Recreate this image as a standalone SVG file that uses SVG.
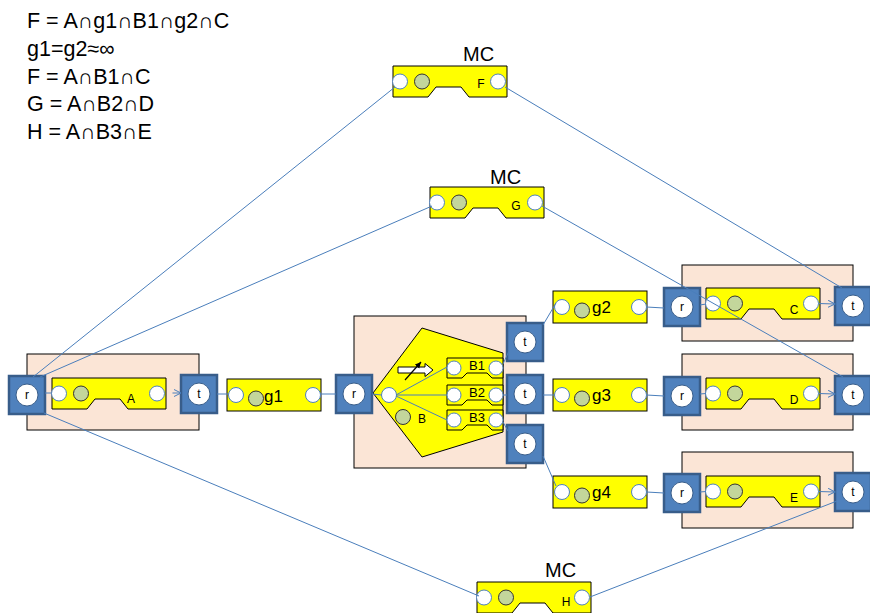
<svg xmlns="http://www.w3.org/2000/svg" width="870" height="613" viewBox="0 0 870 613">
<style>
.txt{font-family:"Liberation Sans",Arial,sans-serif;fill:#000}
.big{font-size:20px}
.eq{font-size:21.5px}
.lbl{font-size:12px}
.nl{font-size:12px;text-anchor:middle}
.glbl{font-size:17px}
.blbl{font-size:13px;text-anchor:middle}
.peach{fill:#FBE5D6;stroke:#000;stroke-width:1}
.yel{fill:#FFFF00;stroke:#000;stroke-width:1}
.port{fill:#fff;stroke:#4F81BD;stroke-width:1}
.grn{fill:#C3D69B;stroke:#333;stroke-width:1}
.blue{fill:#4F81BD;stroke:#385D8A;stroke-width:2.5}
.wc{fill:#fff;stroke:#385D8A;stroke-width:1}
.con{stroke:#4A7EBB;stroke-width:1;fill:none}
</style>
<defs>
<marker id="arr" markerWidth="9" markerHeight="9" refX="7" refY="4" orient="auto" markerUnits="userSpaceOnUse"><path d="M0,0.5 L7,4 L0,7.5" fill="none" stroke="#4A7EBB" stroke-width="1"/></marker>
<marker id="arrB" markerWidth="8" markerHeight="8" refX="6" refY="3" orient="auto" markerUnits="userSpaceOnUse"><path d="M0,0 L6,3 L0,6 Z" fill="#000"/></marker>
<g id="cmp"><polygon class="yel" points="0,0 114,0 114,31 76,31 68,21 43,21 35,31 0,31"/><circle class="port" cx="7" cy="15.5" r="7.5"/><circle class="grn" cx="29" cy="15.5" r="7.5"/><circle class="port" cx="105" cy="15.5" r="7.5"/></g>
<g id="gb"><rect class="yel" x="0" y="0" width="94" height="32"/><circle class="port" cx="9" cy="16" r="7.5"/><circle class="grn" cx="29" cy="19.5" r="7.5"/><circle class="port" cx="86" cy="16" r="7.5"/></g>
<g id="nd"><rect class="blue" x="-18" y="-19" width="36" height="38"/><circle class="wc" cx="0" cy="0" r="11"/></g>
<g id="bb"><polygon class="yel" points="0,0 56,0 56,20 45,20 40,15 20,15 15,20 0,20"/><circle class="port" cx="7" cy="10" r="7"/><circle class="port" cx="49" cy="10" r="7"/></g>
</defs>

<g id="equations" class="txt eq">
<text x="27" y="28">F = A∩g1∩B1∩g2∩C</text>
<text x="27" y="56">g1=g2≈∞</text>
<text x="27" y="84">F = A∩B1∩C</text>
<text x="27" y="111">G = A∩B2∩D</text>
<text x="27" y="139">H = A∩B3∩E</text>
</g>

<g id="mcF">
<text class="txt big" x="463" y="61">MC</text>
<use href="#cmp" x="393" y="66"/>
<text class="txt nl" x="481" y="88">F</text>
</g>
<g id="mcG">
<text class="txt big" x="490" y="184">MC</text>
<use href="#cmp" x="430" y="187"/>
<text class="txt nl" x="516" y="210">G</text>
</g>
<g id="mcH">
<text class="txt big" x="545" y="577">MC</text>
<use href="#cmp" x="477" y="582"/>
<text class="txt nl" x="566" y="606">H</text>
</g>

<g id="boxA">
<rect class="peach" x="27" y="354" width="172" height="76"/>
<use href="#cmp" x="52" y="378"/>
<text class="txt nl" x="131" y="403">A</text>
</g>
<g id="rA"><use href="#nd" x="27" y="395"/><text class="txt nl" x="27" y="399">r</text></g>
<g id="tA"><use href="#nd" x="199" y="394"/><text class="txt nl" x="199" y="398">t</text></g>

<g id="g1"><use href="#gb" x="227" y="379"/><text class="txt glbl" x="264" y="402">g1</text></g>

<g id="boxB">
<rect class="peach" x="354" y="316" width="172" height="152"/>
<polygon class="yel" points="373,393 422,328 503,353 503,432 422,457"/>
<path d="M398,367 H425 V363.5 L433,370 L425,376.5 V373 H398 Z" fill="#fff" stroke="#000" stroke-width="1"/>
<line x1="405" y1="380" x2="421" y2="362" stroke="#000" stroke-width="1.2" marker-end="url(#arrB)"/>
<circle class="port" cx="389" cy="395" r="7.5"/>
<circle class="grn" cx="403" cy="417" r="7.5"/>
<text class="txt lbl" x="418" y="423">B</text>
</g>
<g id="B1"><use href="#bb" x="447" y="358"/><text class="txt blbl" x="477" y="370">B1</text></g>
<g id="B2"><use href="#bb" x="447" y="385"/><text class="txt blbl" x="477" y="397">B2</text></g>
<g id="B3"><use href="#bb" x="447" y="410"/><text class="txt blbl" x="477" y="422">B3</text></g>
<g id="rB"><use href="#nd" x="354" y="394"/><text class="txt nl" x="354" y="398">r</text></g>
<g id="t1"><use href="#nd" x="525" y="342"/><text class="txt nl" x="525" y="346">t</text></g>
<g id="t2"><use href="#nd" x="525" y="394"/><text class="txt nl" x="525" y="398">t</text></g>
<g id="t3"><use href="#nd" x="525" y="444"/><text class="txt nl" x="525" y="448">t</text></g>

<g id="g2"><use href="#gb" x="553" y="291"/><text class="txt glbl" x="592" y="313">g2</text></g>
<g id="g3"><use href="#gb" x="553" y="379"/><text class="txt glbl" x="592" y="401">g3</text></g>
<g id="g4"><use href="#gb" x="553" y="476"/><text class="txt glbl" x="592" y="498">g4</text></g>

<g id="boxC">
<rect class="peach" x="682" y="265" width="171" height="76"/>
<use href="#cmp" x="706" y="288"/>
<text class="txt nl" x="794" y="314">C</text>
</g>
<g id="rC"><use href="#nd" x="682" y="307"/><text class="txt nl" x="682" y="311">r</text></g>
<g id="tC"><use href="#nd" x="853" y="306"/><text class="txt nl" x="853" y="310">t</text></g>

<g id="boxD">
<rect class="peach" x="682" y="354" width="171" height="76"/>
<use href="#cmp" x="706" y="378"/>
<text class="txt nl" x="794" y="404">D</text>
</g>
<g id="rD"><use href="#nd" x="682" y="396"/><text class="txt nl" x="682" y="400">r</text></g>
<g id="tD"><use href="#nd" x="853" y="395"/><text class="txt nl" x="853" y="399">t</text></g>

<g id="boxE">
<rect class="peach" x="682" y="452" width="171" height="76"/>
<use href="#cmp" x="706" y="476"/>
<text class="txt nl" x="794" y="502">E</text>
</g>
<g id="rE"><use href="#nd" x="682" y="493"/><text class="txt nl" x="682" y="497">r</text></g>
<g id="tE"><use href="#nd" x="853" y="492"/><text class="txt nl" x="853" y="496">t</text></g>

<g id="connectors" class="con">
<path d="M45,393 L51.5,393"/>
<path d="M172.5,393 L181,393" marker-end="url(#arr)"/>
<path d="M217,394 L228.5,394"/>
<path d="M320,394 L336,394"/>
<path d="M372,394 L381.5,395"/>
<path d="M396,395 L447,367"/>
<path d="M396.5,395 L447,395"/>
<path d="M396,396 L447,420"/>
<path d="M503,364 L509,351"/>
<path d="M503,395 L507,395"/>
<path d="M503,422 L508,431"/>
<path d="M543,325 L556,303"/>
<path d="M543,395 L554.5,395"/>
<path d="M543,456 L556,486"/>
<path d="M646.5,307 L664,308"/>
<path d="M700,305 L706,304"/>
<path d="M818.5,303.5 L835,304" marker-end="url(#arr)"/>
<path d="M646.5,395 L664,396"/>
<path d="M700,394 L706,393.5"/>
<path d="M818.5,393.5 L835,394" marker-end="url(#arr)"/>
<path d="M646.5,492 L664,493"/>
<path d="M700,492 L706,491.5"/>
<path d="M818.5,491.5 L835,492" marker-end="url(#arr)"/>
<path d="M33,377 L395,87"/>
<path d="M40,377 L432,206"/>
<path d="M44,413 L479,596"/>
<path d="M505,87 L842,288"/>
<path d="M542,206 L843,377"/>
<path d="M590,597 L837,501"/>
</g>
</svg>
